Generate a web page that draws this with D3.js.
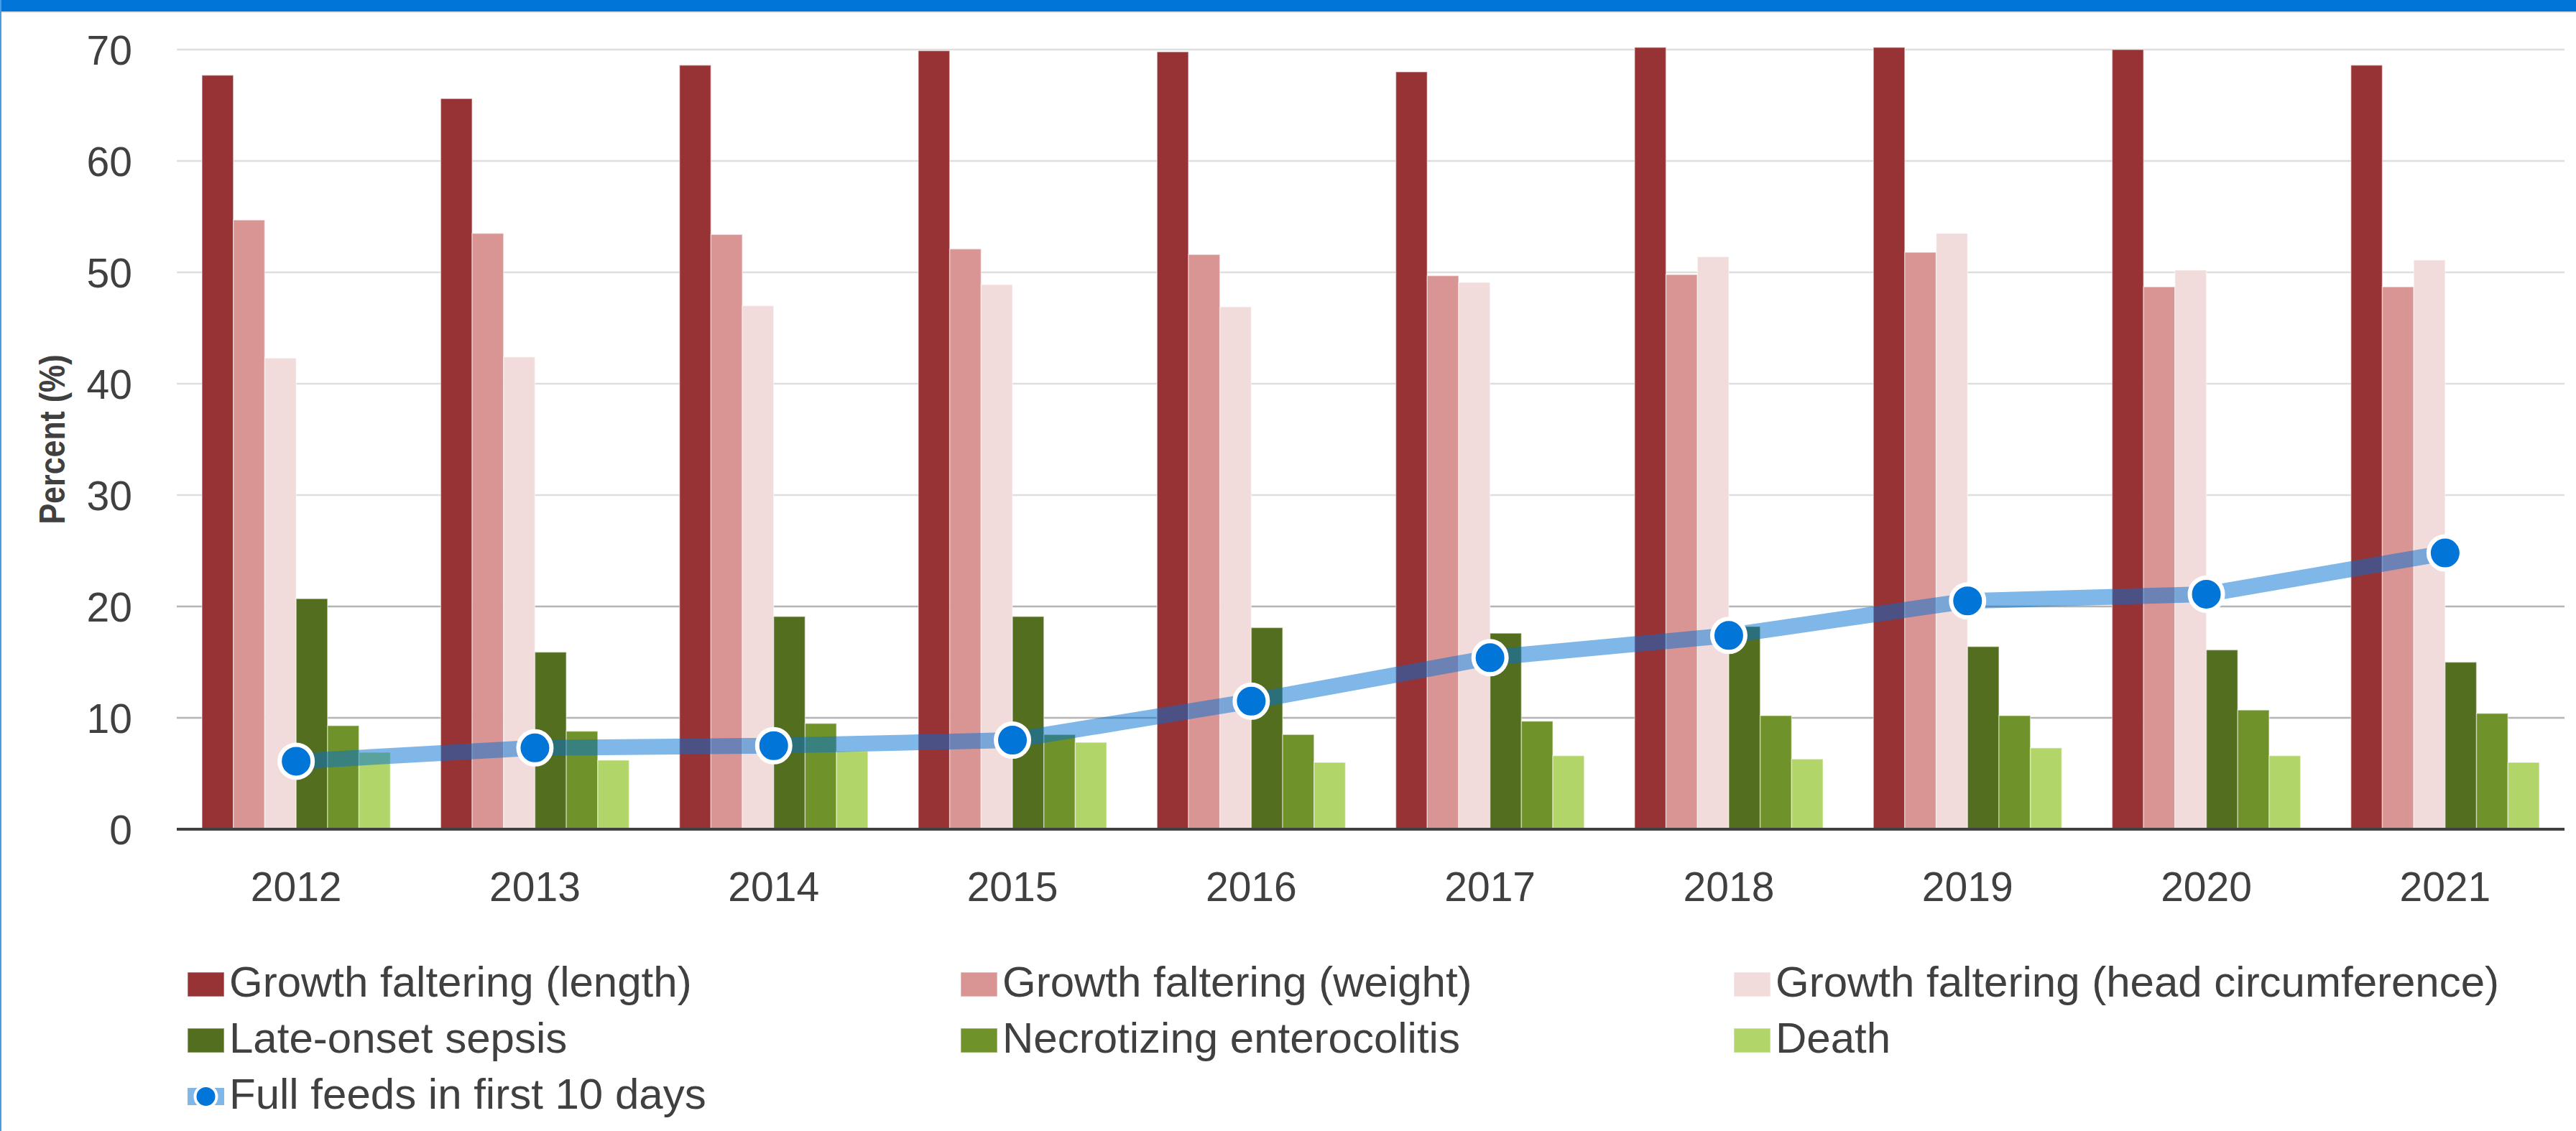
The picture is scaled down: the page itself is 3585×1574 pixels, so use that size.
<!DOCTYPE html>
<html>
<head>
<meta charset="utf-8">
<script src="https://cdn.jsdelivr.net/npm/d3@7"></script>
<style>
  body { margin: 0; background: #fff; }
  svg { display: block; font-family: "Liberation Sans", Arial, sans-serif; }
</style>
</head>
<body>
<script>
// data
const years = ['2012', '2013', '2014', '2015', '2016', '2017', '2018', '2019', '2020', '2021'];
const lengthPct  = [67.7, 65.6, 68.6, 69.9, 69.8, 68.0, 70.2, 70.2, 70.0, 68.6];
const weightPct  = [54.7, 53.5, 53.4, 52.1, 51.6, 49.7, 49.8, 51.8, 48.7, 48.7];
const headPct    = [42.3, 42.4, 47.0, 48.9, 46.9, 49.1, 51.4, 53.5, 50.2, 51.1];
const sepsisPct  = [20.7, 15.9, 19.1, 19.1, 18.1, 17.6, 18.2, 16.4, 16.1, 15.0];
const necPct     = [9.3, 8.8, 9.5, 8.5, 8.5, 9.7, 10.2, 10.2, 10.7, 10.4];
const deathPct   = [6.9, 6.2, 7.0, 7.8, 6.0, 6.6, 6.3, 7.3, 6.6, 6.0];
const fullFeedsPct = [6.1, 7.3, 7.5, 8.0, 11.5, 15.4, 17.4, 20.5, 21.1, 24.8];
const yTicks = [0, 10, 20, 30, 40, 50, 60, 70];

const barSeries = [
  { name: 'Growth faltering (length)', values: lengthPct, color: '#973334' },
  { name: 'Growth faltering (weight)', values: weightPct, color: '#d99594' },
  { name: 'Growth faltering (head circumference)', values: headPct, color: '#f2dbdb' },
  { name: 'Late-onset sepsis', values: sepsisPct, color: '#546e1f' },
  { name: 'Necrotizing enterocolitis', values: necPct, color: '#70922a' },
  { name: 'Death', values: deathPct, color: '#b2d569' }
];
const lineName = 'Full feeds in first 10 days';
const blue = '#0275d8';

const width = 3585, height = 1574;
const plot = { left: 246, right: 3569, top: 69, bottom: 1154 };

const svg = d3.select('body').append('svg')
  .attr('width', width)
  .attr('height', height);

svg.append('rect').attr('width', width).attr('height', height).attr('fill', '#fff');

/* frame */
svg.append('rect').attr('x', 0).attr('y', 0).attr('width', width).attr('height', 16).attr('fill', blue);
svg.append('rect').attr('x', 0).attr('y', 16).attr('width', width).attr('height', 2).attr('fill', '#e3e3e3');
svg.append('rect').attr('x', 0).attr('y', 0).attr('width', 2).attr('height', height).attr('fill', '#4a9be0');

/* scales */
const x0 = d3.scaleBand().domain(years).range([plot.left, plot.right]);
const groupW = x0.step() * 0.789;
const x1 = d3.scaleBand()
  .domain(barSeries.map(s => s.name))
  .range([(x0.step() - groupW) / 2, (x0.step() + groupW) / 2]);
const y = d3.scaleLinear().domain([0, 70]).range([plot.bottom, plot.top]);

/* gridlines */
svg.append('g')
  .selectAll('line')
  .data(yTicks.filter(d => d > 0))
  .enter().append('line')
  .attr('x1', plot.left).attr('x2', plot.right)
  .attr('y1', d => y(d)).attr('y2', d => y(d))
  .attr('stroke', d => d <= 20 ? '#b4b4b4' : '#dedede')
  .attr('stroke-width', 2.5);

/* y axis */
const yAxis = svg.append('g')
  .attr('transform', `translate(184,0)`)
  .call(d3.axisLeft(y).tickValues(yTicks).tickSize(0).tickPadding(0));
yAxis.select('.domain').remove();
yAxis.selectAll('text')
  .attr('font-size', 57)
  .attr('font-family', '"Liberation Sans", Arial, sans-serif')
  .attr('fill', '#404040')
  .attr('dy', '0.36em');

// Calibri-like narrow bold: bigger glyphs squeezed to the same run length
svg.append('text')
  .attr('transform', `translate(90,${(plot.top + plot.bottom) / 2}) rotate(-90)`)
  .attr('text-anchor', 'middle')
  .attr('font-size', 50)
  .attr('font-weight', 'bold')
  .attr('fill', '#404040')
  .attr('textLength', 236)
  .attr('lengthAdjust', 'spacingAndGlyphs')
  .text('Percent (%)');

/* bars */
const groups = svg.append('g')
  .selectAll('g')
  .data(years)
  .enter().append('g')
  .attr('transform', d => `translate(${x0(d)},0)`);

groups.selectAll('rect')
  .data((d, i) => barSeries.map(s => ({ name: s.name, color: s.color, value: s.values[i] })))
  .enter().append('rect')
  .attr('x', d => x1(d.name))
  .attr('width', x1.bandwidth())
  .attr('y', d => y(d.value))
  .attr('height', d => y(0) - y(d.value))
  .attr('fill', d => d.color)
  .attr('stroke', '#ffffff')
  .attr('stroke-opacity', 0.45)
  .attr('stroke-width', 1.5);

/* x axis */
svg.append('line')
  .attr('x1', plot.left).attr('x2', plot.right)
  .attr('y1', y(0)).attr('y2', y(0))
  .attr('stroke', '#404040')
  .attr('stroke-width', 4);

const xAxis = svg.append('g')
  .attr('transform', `translate(0,${y(0)})`)
  .call(d3.axisBottom(x0).tickSize(0).tickPadding(0));
xAxis.select('.domain').remove();
xAxis.selectAll('text')
  .attr('font-size', 57)
  .attr('font-family', '"Liberation Sans", Arial, sans-serif')
  .attr('fill', '#404040')
  .attr('y', 100)
  .attr('dy', 0);

/* line series */
const cx = d => x0(d) + x0.bandwidth() / 2;
const line = d3.line()
  .x((d, i) => cx(years[i]))
  .y(d => y(d));

svg.append('path')
  .datum(fullFeedsPct)
  .attr('d', line)
  .attr('fill', 'none')
  .attr('stroke', '#0070d4')
  .attr('stroke-opacity', 0.5)
  .attr('stroke-width', 22)
  .attr('stroke-linejoin', 'round');

svg.append('g')
  .selectAll('circle')
  .data(fullFeedsPct)
  .enter().append('circle')
  .attr('cx', (d, i) => cx(years[i]))
  .attr('cy', d => y(d))
  .attr('r', 23)
  .attr('fill', blue)
  .attr('stroke', '#fff')
  .attr('stroke-width', 6);

/* legend */
const legendItems = barSeries.map(s => ({ name: s.name, color: s.color, type: 'bar' }))
  .concat([{ name: lineName, color: blue, type: 'line' }]);
const legendX = [261, 1337, 2413], legendBaseY = 1387, rowH = 78;

const legend = svg.append('g')
  .selectAll('g')
  .data(legendItems)
  .enter().append('g')
  .attr('transform', (d, i) => `translate(${legendX[i % 3]},${legendBaseY + Math.floor(i / 3) * rowH})`);

legend.filter(d => d.type === 'bar').append('rect')
  .attr('x', 0).attr('y', -34)
  .attr('width', 51).attr('height', 34)
  .attr('fill', d => d.color)
  .attr('stroke', '#fff').attr('stroke-opacity', 0.45).attr('stroke-width', 1.5);

const lineKey = legend.filter(d => d.type === 'line');
lineKey.append('line')
  .attr('x1', 0).attr('x2', 51)
  .attr('y1', -17).attr('y2', -17)
  .attr('stroke', '#0070d4').attr('stroke-opacity', 0.5)
  .attr('stroke-width', 24);
lineKey.append('ellipse')
  .attr('cx', 25.5).attr('cy', -17)
  .attr('rx', 15).attr('ry', 15)
  .attr('fill', blue)
  .attr('stroke', '#fff').attr('stroke-width', 4);

legend.append('text')
  .attr('x', 58)
  .attr('y', 0)
  .attr('font-size', 60)
  .attr('fill', '#404040')
  .text(d => d.name);
</script>
</body>
</html>
